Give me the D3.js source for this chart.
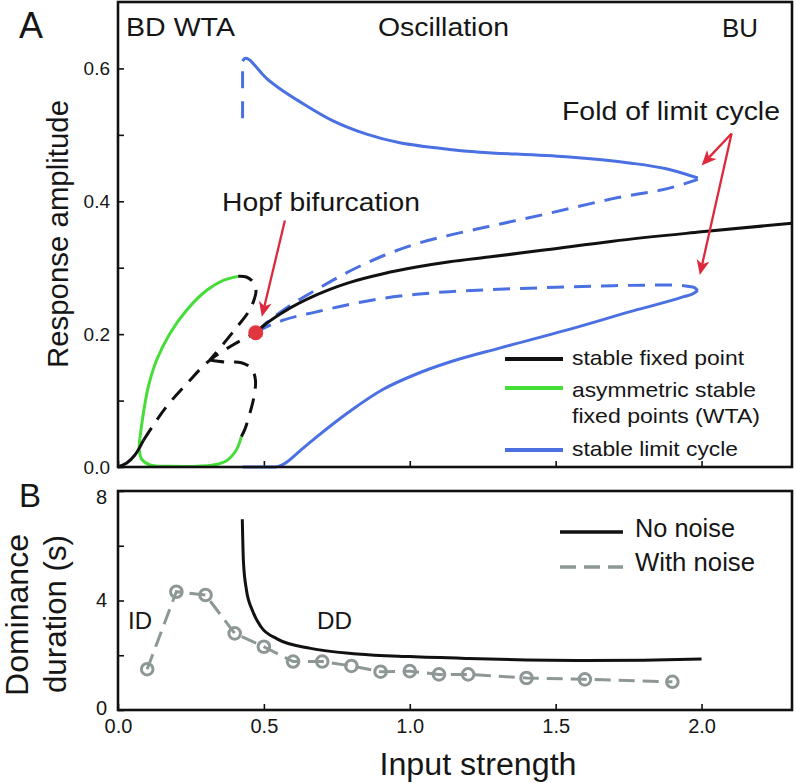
<!DOCTYPE html>
<html><head><meta charset="utf-8">
<script src="https://cdn.jsdelivr.net/npm/d3@7"></script>
<style>
body{margin:0;background:#fff}
svg{display:block}
text{font-family:"Liberation Sans",Arial,Helvetica,sans-serif;fill:#161616}
</style>
</head><body>
<svg id="c" width="796" height="783"></svg>
<script>
// ---------- data ----------
const xTicks = [0, 0.5, 1.0, 1.5, 2.0];
const xTickLabels = ["0.0", "0.5", "1.0", "1.5", "2.0"];
const yTicksA = [0, 0.1, 0.2, 0.3, 0.4, 0.5, 0.6];
const yTickLabelsA = ["0.0", "", "0.2", "", "0.4", "", "0.6"];
const yTicksB = [0, 2, 4, 6, 8];
const yTickLabelsB = ["0", "", "4", "", "8"];

// Panel A: bifurcation diagram [input, amplitude]
const symStable = [[0,0],[0.03,0.006],[0.058,0.018],[0.087,0.04]];
const symUnstable = [[0.087,0.04],[0.161,0.088],[0.241,0.128],[0.315,0.161],[0.395,0.184],[0.472,0.202]];
const wtaUpper = [[0.075,0.043],[0.087,0.081],[0.104,0.121],[0.1325,0.161],[0.178,0.201],[0.235,0.236],[0.304,0.266],[0.361,0.281],[0.412,0.287]];
const wtaLower = [[0.075,0.043],[0.073,0.026],[0.081,0.012],[0.11,0.003],[0.175,0.001],[0.326,0.003],[0.372,0.0095],[0.406,0.026],[0.423,0.046]];
const asymUnstableUpper = [[0.412,0.287],[0.44,0.286],[0.462,0.279],[0.473,0.266],[0.465,0.25],[0.445,0.232],[0.41,0.212],[0.366,0.188],[0.315,0.161]];
const asymUnstableLower = [[0.423,0.046],[0.435,0.057],[0.452,0.081],[0.466,0.106],[0.471,0.131],[0.458,0.148],[0.423,0.157],[0.366,0.158],[0.315,0.161]];
const stableFixed = [[0.472,0.202],[0.492,0.21],[0.566,0.233],[0.68,0.259],[0.795,0.278],[0.909,0.291],[1.023,0.301],[1.137,0.309],[1.27,0.316],[1.468,0.327],[1.696,0.34],[2.0,0.354],[2.31,0.367]];
const lcUnstableUpper = [[0.472,0.202],[0.498,0.213],[0.566,0.236],[0.68,0.267],[0.795,0.295],[0.909,0.318],[1.023,0.336],[1.137,0.349],[1.27,0.362],[1.468,0.381],[1.696,0.404],[1.925,0.424],[1.987,0.433]];
const lcUnstableLower = [[0.472,0.202],[0.498,0.2085],[0.566,0.221],[0.68,0.2335],[0.795,0.245],[0.909,0.254],[1.023,0.26],[1.137,0.264],[1.27,0.267],[1.468,0.27],[1.696,0.273],[1.902,0.274],[1.97,0.271],[1.987,0.266]];
const lcStableUpper = [[0.427,0.611],[0.434,0.6148],[0.442,0.615],[0.452,0.6125],[0.468,0.605],[0.49,0.594],[0.509,0.585],[0.55,0.571],[0.623,0.55],[0.737,0.521],[0.852,0.501],[0.966,0.488],[1.137,0.478],[1.24,0.474],[1.536,0.467],[1.765,0.457],[1.879,0.449],[1.987,0.435]];
const lcJump = [[0.427,0.525],[0.427,0.611]];
const lcStableLower = [[0.427,0],[0.54,0],[0.566,0.004],[0.623,0.024],[0.68,0.045],[0.795,0.084],[0.909,0.117],[1.023,0.14],[1.137,0.158],[1.308,0.179],[1.537,0.206],[1.765,0.235],[1.936,0.256],[1.975,0.262],[1.987,0.266]];
const hopfPoint = [0.472, 0.202];

// Panel B: dominance durations
const noNoiseX = [0.426,0.43,0.44,0.46,0.49,0.545,0.66,0.82,1.0,1.2,1.4,1.6,1.8,2.0];
const noNoiseY = [6.97,5.4,4.4,3.65,3.04,2.6,2.25,2.05,1.95,1.88,1.83,1.81,1.82,1.86];
const noiseX = [0.1,0.2,0.3,0.4,0.5,0.6,0.7,0.8,0.9,1.0,1.1,1.2,1.4,1.6,1.9];
const noiseY = [1.49,4.32,4.2,2.8,2.31,1.77,1.77,1.61,1.4,1.42,1.3,1.3,1.17,1.12,1.03];

// ---------- setup ----------
const svg = d3.select("#c");
const COL = {black:"#111", green:"#45dd38", blue:"#4a70e2", red:"#dc2a3c", dot:"#e2363f", grey:"#8d9896"};
const x = d3.scaleLinear().domain([0, 2.31]).range([118, 792]);
const yA = d3.scaleLinear().domain([0, 0.7]).range([467, 2]);
const yB = d3.scaleLinear().domain([0, 8]).range([710, 491]);

function txt(str, px, py, size, opt={}) {
  const t = svg.append("text").attr("x", px).attr("y", py)
    .attr("font-size", size).text(str);
  if (opt.anchor) t.attr("text-anchor", opt.anchor);
  if (opt.len) t.attr("textLength", opt.len).attr("lengthAdjust", "spacingAndGlyphs");
  if (opt.rot) t.attr("transform", `rotate(-90,${px},${py})`);
  return t;
}

// ---------- axes ----------
function styleAxis(g){
  g.select(".domain").remove();
  g.selectAll(".tick line").attr("stroke", COL.black).attr("stroke-width", 1.6);
  g.selectAll(".tick text").attr("fill", "#161616").style("font-family", '"Liberation Sans",Arial,sans-serif');
}
const gA = svg.append("g");
gA.append("g").attr("transform", `translate(${x(0)},0)`)
  .call(d3.axisLeft(yA).tickValues(yTicksA).tickSize(-6).tickPadding(8)
    .tickFormat((d,i)=>yTickLabelsA[i]))
  .call(styleAxis).selectAll("text").attr("font-size", 19);
gA.append("g").attr("transform", `translate(0,${yA(0)})`)
  .call(d3.axisBottom(x).tickValues(xTicks).tickSize(-6).tickFormat(""))
  .call(styleAxis);

const gB = svg.append("g");
gB.append("g").attr("transform", `translate(${x(0)},0)`)
  .call(d3.axisLeft(yB).tickValues(yTicksB).tickSize(-6).tickPadding(11)
    .tickFormat((d,i)=>yTickLabelsB[i]))
  .call(styleAxis).selectAll("text").attr("font-size", 20);
gB.selectAll(".tick").filter(d=>d===8).select("text").attr("dy", "0.62em");
gB.selectAll(".tick").filter(d=>d===0).select("text").attr("dy", "0.22em");
gB.append("g").attr("transform", `translate(0,${yB(0)})`)
  .call(d3.axisBottom(x).tickValues(xTicks).tickSize(-6).tickPadding(9)
    .tickFormat((d,i)=>xTickLabels[i]))
  .call(styleAxis).selectAll("text").attr("font-size", 20);
gB.selectAll(".tick").filter(d=>d===0 && this).select("text");

// ---------- panel A curves ----------
const lineCR = d3.line().x(d=>x(d[0])).y(d=>yA(d[1])).curve(d3.curveCatmullRom.alpha(0.5));
const lineMX = d3.line().x(d=>x(d[0])).y(d=>yA(d[1])).curve(d3.curveMonotoneX);
function pathA(data, color, dash, gen=lineCR, w=3) {
  const p = svg.append("path").datum(data).attr("d", gen)
    .attr("fill","none").attr("stroke", color).attr("stroke-width", w)
    .attr("stroke-linecap","butt").attr("stroke-linejoin","round");
  if (dash) p.attr("stroke-dasharray", dash);
  return p;
}
pathA(lcStableLower, COL.blue, null, lineMX);
pathA(lcStableUpper, COL.blue, null, lineCR);
pathA(lcJump, COL.blue, "17,13");
pathA(lcUnstableUpper, COL.blue, "17,10", lineMX);
pathA(lcUnstableLower, COL.blue, "17,10", lineMX);
pathA(wtaUpper, COL.green);
pathA(wtaLower, COL.green);
pathA(symStable, COL.black);
pathA(symUnstable, COL.black, "15,10");
pathA(asymUnstableUpper, COL.black, "15,10");
pathA(asymUnstableLower, COL.black, "15,10");
pathA(stableFixed, COL.black, null, lineMX);

svg.append("circle").attr("cx", x(hopfPoint[0])).attr("cy", yA(hopfPoint[1]))
  .attr("r", 7.5).attr("fill", COL.dot);

// arrows (data coordinates)
function arrow(from, to) {
  const x1 = x(from[0]), y1 = yA(from[1]), x2 = x(to[0]), y2 = yA(to[1]);
  const a = Math.atan2(y2-y1, x2-x1);
  const L = 15, W = 6.5, N = 11;
  svg.append("line").attr("x1", x1).attr("y1", y1)
    .attr("x2", x2 - Math.cos(a)*N).attr("y2", y2 - Math.sin(a)*N)
    .attr("stroke", COL.red).attr("stroke-width", 2.3);
  const bx = x2 - Math.cos(a)*L, by = y2 - Math.sin(a)*L;
  const nx = x2 - Math.cos(a)*N, ny = y2 - Math.sin(a)*N;
  const px = -Math.sin(a), py = Math.cos(a);
  svg.append("path").attr("d",
    `M${x2},${y2}L${bx+px*W},${by+py*W}L${nx},${ny}L${bx-px*W},${by-py*W}Z`)
    .attr("fill", COL.red);
}
arrow([0.572, 0.371], [0.493, 0.226]);
arrow([2.103, 0.502], [2.0, 0.454]);
arrow([2.103, 0.502], [1.994, 0.289]);

// ---------- panel B ----------
const noNoise = noNoiseX.map((v,i)=>[v, noNoiseY[i]]);
const noise = noiseX.map((v,i)=>[v, noiseY[i]]);
svg.append("path").datum(noNoise)
  .attr("d", d3.line().x(d=>x(d[0])).y(d=>yB(d[1])).curve(d3.curveMonotoneX))
  .attr("fill","none").attr("stroke", COL.black).attr("stroke-width", 3);
svg.append("path").datum(noise).attr("d", d3.line().x(d=>x(d[0])).y(d=>yB(d[1])))
  .attr("fill","none").attr("stroke", COL.grey).attr("stroke-width", 3)
  .attr("stroke-dasharray", "16,8");
svg.append("g").selectAll("circle").data(noise).join("circle")
  .attr("cx", d=>x(d[0])).attr("cy", d=>yB(d[1])).attr("r", 5.8)
  .attr("fill","none").attr("stroke", COL.grey).attr("stroke-width", 3);

// ---------- frames ----------
svg.append("rect").attr("x", x(0)).attr("y", yA(0.7)).attr("width", x(2.31)-x(0))
  .attr("height", yA(0)-yA(0.7)).attr("fill","none").attr("stroke", COL.black).attr("stroke-width", 2.6);
svg.append("rect").attr("x", x(0)).attr("y", yB(8)).attr("width", x(2.31)-x(0))
  .attr("height", yB(0)-yB(8)).attr("fill","none").attr("stroke", COL.black).attr("stroke-width", 2.6);

// ---------- legends ----------
const legA = [
  {c: COL.black, lines: ["stable fixed point"], y: 359, base: [365], len: [172]},
  {c: COL.green, lines: ["asymmetric stable", "fixed points (WTA)"], y: 388, base: [396.5, 423], len: [184, 188]},
  {c: COL.blue, lines: ["stable limit cycle"], y: 450, base: [455.5], len: [166]}
];
legA.forEach(e => {
  svg.append("line").attr("x1", 505).attr("x2", 563).attr("y1", e.y).attr("y2", e.y)
    .attr("stroke", e.c).attr("stroke-width", 4);
  e.lines.forEach((s,i)=> txt(s, 572, e.base[i], 21, {len: e.len[i]}));
});
svg.append("line").attr("x1", 560).attr("x2", 623).attr("y1", 532).attr("y2", 532)
  .attr("stroke", COL.black).attr("stroke-width", 3.5);
svg.append("line").attr("x1", 560).attr("x2", 623).attr("y1", 567).attr("y2", 567)
  .attr("stroke", COL.grey).attr("stroke-width", 3.5).attr("stroke-dasharray", "16,8");
txt("No noise", 635, 537, 25.5, {len: 100});
txt("With noise", 635, 570.5, 25.5, {len: 120});

// ---------- labels ----------
txt("A", 19, 38, 36);
txt("B", 19, 507, 33);
txt("BD WTA", 126, 36, 25, {len: 109});
txt("Oscillation", 378, 36, 25, {len: 131});
txt("BU", 722, 36.5, 25, {len: 36});
txt("Hopf bifurcation", 222, 210.5, 25, {len: 198});
txt("Fold of limit cycle", 562, 120, 25, {len: 218});
txt("ID", 128, 628.5, 23.5, {len: 24});
txt("DD", 317, 628.5, 23.5, {len: 35});
txt("Input strength", 478, 775, 31, {anchor: "middle", len: 197});
txt("Response amplitude", 68, 234, 29, {anchor: "middle", len: 268, rot: true});
txt("Dominance", 28, 615, 31, {anchor: "middle", len: 162, rot: true});
txt("duration (s)", 66, 614, 31, {anchor: "middle", len: 158, rot: true});
</script>
</body></html>
